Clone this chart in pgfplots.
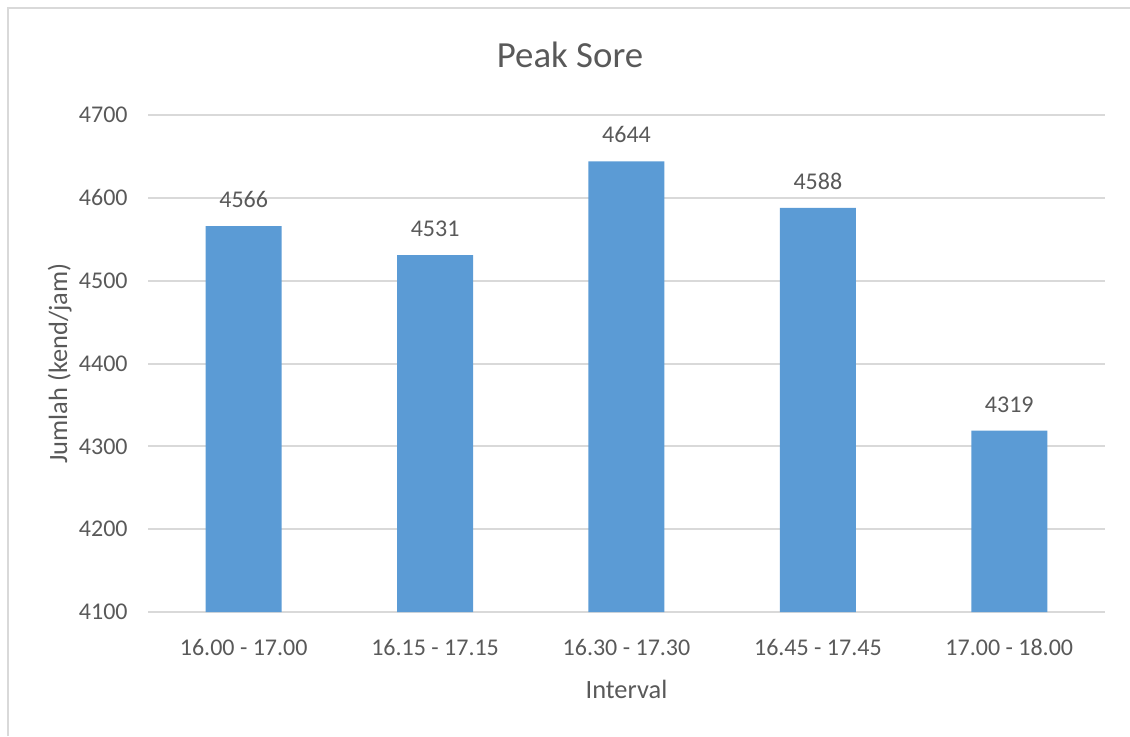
\documentclass[border=0pt]{standalone}
\usepackage{fontspec}
\setmainfont{Carlito}
\usepackage{xcolor}
\usepackage{pgfplots}
\pgfplotsset{compat=1.18}
\definecolor{barblue}{HTML}{5B9BD5}
\definecolor{txtgray}{HTML}{595959}
\definecolor{gridgray}{HTML}{D9D9D9}

\begin{document}
\begin{tikzpicture}
\useasboundingbox (0,0) rectangle (565pt,368pt);
% outer chart frame (only top and left edges are inside the picture)
\draw[gridgray, line width=1.3pt] (4pt,0) -- (4pt,364pt) -- (565pt,364pt);
\begin{axis}[
  at={(74pt,62pt)}, anchor=south west,
  scale only axis,
  width=478.5pt, height=248.5pt,
  ybar, bar width=38pt,
  xmin=-0.5, xmax=4.5,
  ymin=4100, ymax=4700,
  ytick={4100,4200,4300,4400,4500,4600,4700},
  xtick=data,
  xticklabels={16.00 - 17.00,16.15 - 17.15,16.30 - 17.30,16.45 - 17.45,17.00 - 18.00},
  major tick length=0pt,
  axis line style={draw=none},
  axis x line*=bottom,
  ymajorgrids=true,
  grid style={gridgray, line width=1pt},
  /pgf/number format/assume math mode=true,
  /pgf/number format/1000 sep={},
  ticklabel style={font=\fontsize{12}{14}\selectfont, text=txtgray, inner sep=0pt},
  xticklabel style={anchor=north, yshift=-13.5pt},
  yticklabel style={anchor=east, xshift=-10pt},
  title={Peak Sore},
  every axis title/.style={at={(axis description cs:0.441,1.0946)}, anchor=base, inner sep=0pt,
    font=\fontsize{18.4}{22}\selectfont, text=txtgray},
  xlabel={Interval},
  every axis x label/.style={at={(axis description cs:0.5,-0.175)}, anchor=base, inner sep=0pt,
    font=\fontsize{13.2}{16}\selectfont, text=txtgray},
  ylabel={Jumlah (kend/jam)},
  every axis y label/.style={at={(axis description cs:-0.0846,0.5)}, rotate=90, anchor=base, inner sep=0pt,
    font=\fontsize{13.2}{16}\selectfont, text=txtgray},
  nodes near coords,
  every node near coord/.append style={font=\fontsize{12}{14}\selectfont, text=txtgray,
    anchor=south, inner sep=0pt, yshift=9pt},
  clip=false,
]
\draw[gridgray, line width=1pt] (axis cs:-0.5,4100) -- (axis cs:4.5,4100);
\addplot[fill=barblue, draw=none] coordinates {(0,4566) (1,4531) (2,4644) (3,4588) (4,4319)};
\end{axis}
\end{tikzpicture}
\end{document}
